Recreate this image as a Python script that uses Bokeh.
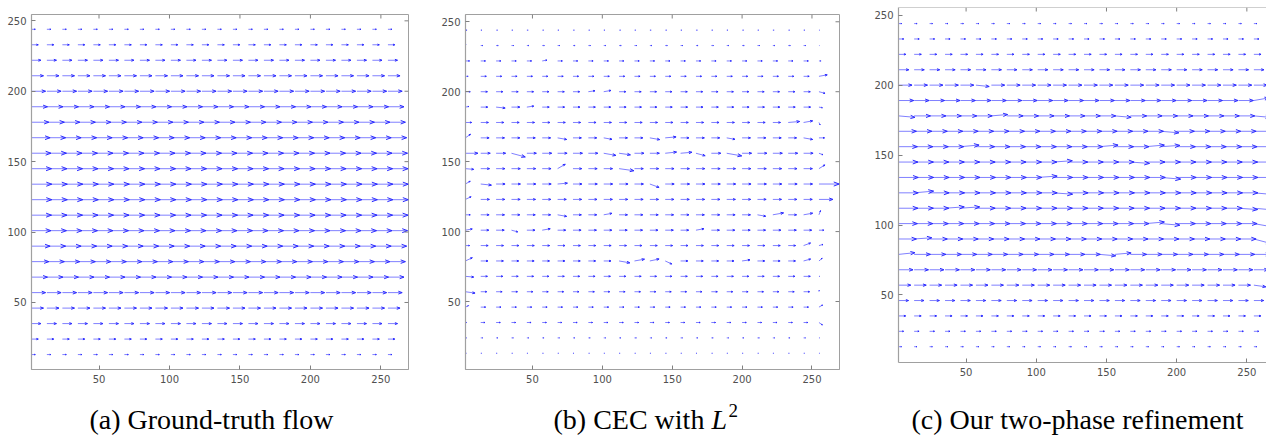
import math
from bokeh.plotting import figure
from bokeh.layouts import row, column, Spacer
from bokeh.models import LinearAxis, FixedTicker, Range1d, Span
from bokeh.core.properties import value
from bokeh.embed import file_html
from bokeh.resources import INLINE

# ---------------- data ----------------
grid_x = [2, 13, 24, 35, 46, 57, 68, 79, 90, 101, 112, 123, 134, 145, 156, 167,
          178, 189, 200, 211, 222, 233, 244, 255]
grid_y = [13, 24, 35, 46, 57, 68, 79, 90, 101, 112, 123, 134, 145, 156, 167,
          178, 189, 200, 211, 222, 233, 244]
tick_vals = [50, 100, 150, 200, 250]

a_row_len = [2.8, 4.9, 6.8, 8.6, 10.1, 11.4, 12.4, 13.3, 13.9, 14.3, 14.5,
             14.5, 14.3, 13.9, 13.3, 12.4, 11.4, 10.1, 8.6, 6.8, 4.9, 2.8]
b_row_len = [0.7, 1.3, 3.0, 3.5, 4.3, 4.8, 5.2, 5.3, 5.8, 6.0, 6.2,
             6.4, 6.3, 6.8, 6.0, 5.5, 5.0, 4.8, 4.0, 3.4, 1.5, 0.9]
c_row_len = [2.0, 3.5, 5.0, 7.0, 8.6, 10.2, 11.6, 12.6, 13.3, 13.7, 13.9,
             13.9, 13.7, 13.3, 12.6, 11.6, 10.7, 9.5, 7.2, 5.1, 3.6, 2.1]

b_right_len = [0.5, 0.5, 3.0, 3.0, 1.2, 0.6, 3.0, 3.0, 3.5, 3.2, 10.0,
               14.5, 5.0, 3.0, 4.0, 2.0, 2.5, 4.5, 6.0, 1.5, 0.3, 0.5]
b_right_ang = [0, 0, -35, 30, 80, 0, 40, 15, 0, 70, 0,
               0, 32, -20, 0, -65, -10, -15, 10, 0, 0, 0]
b_left_len = [0.6, 0.8, 1.0, 2.5, 7.0, 6.0, 5.5, 3.0, 5.0, 3.5, 4.5,
              4.0, 6.0, 9.0, 4.5, 4.5, 2.5, 3.5, 2.0, 3.0, 0.8, 1.2]
b_left_ang = [0, 0, 0, 25, -8, -5, 25, 0, 10, 0, 25,
              30, -5, 0, 35, 0, 10, 0, 0, 0, 60, 0]

b_dev = [(57, 222, 1.0, 10), (90, 200, 1.0, 8), (101, 200, 1.1, 10),
         (24, 189, 1.3, -6), (35, 189, 1.2, 0), (46, 189, 1.0, 8),
         (233, 178, 1.5, 5), (244, 178, 1.2, 10),
         (68, 167, 1.1, -10), (101, 167, 1.0, -10), (134, 167, 1.2, -10),
         (145, 167, 1.3, 5), (189, 167, 1.0, -10), (244, 167, 1.1, -10),
         (35, 156, 1.5, -15), (101, 156, 1.3, -10), (112, 156, 1.2, -8),
         (145, 156, 1.2, 6), (156, 156, 1.2, 5), (167, 156, 1.0, -15),
         (189, 156, 1.6, -10), (68, 145, 1.0, 30), (112, 145, 1.7, -8),
         (13, 134, 1.2, -6), (68, 134, 1.1, 5), (134, 134, 1.1, -20),
         (68, 112, 1.1, -10), (101, 112, 1.0, 10), (211, 112, 1.0, -10),
         (222, 112, 1.3, 10), (244, 112, 1.1, 10), (35, 101, 0.8, -15),
         (57, 101, 1.0, 10), (167, 101, 1.0, 10), (244, 90, 1.0, 20),
         (112, 79, 1.5, -10), (123, 79, 1.4, 10), (134, 79, 1.3, 12),
         (145, 79, 1.0, -25), (200, 79, 1.1, 8), (244, 79, 1.0, 15)]

c_right_ang = [0, 0, 0, 0, -8, 0, 0, -15, -10, -5, -5,
               0, 0, 0, 0, -5, 10, 0, 0, 0, 0, 0]
c_dev = [(57, 200, 1.0, -6), (2, 178, 1.0, -5), (68, 178, 1.0, 5),
         (156, 178, 1.0, -5), (189, 167, 1.0, -5), (46, 156, 1.0, 5),
         (145, 156, 1.0, 5), (178, 156, 1.0, 5), (189, 156, 1.0, 4),
         (112, 145, 1.0, 4), (167, 145, 1.0, -4), (101, 134, 1.0, 4),
         (189, 134, 1.0, -5), (13, 123, 1.0, 5), (112, 123, 1.0, -4),
         (35, 112, 1.0, 4), (46, 112, 1.0, 4), (244, 112, 1.0, -4),
         (178, 101, 1.0, 5), (189, 101, 1.0, -5), (13, 90, 1.0, 4),
         (2, 79, 1.0, 6), (145, 79, 1.0, -5), (156, 79, 1.0, 5)]

caption_a = "(a) Ground-truth flow"
caption_b = "(b) CEC with"
caption_b_sym = "L"
caption_b_exp = "2"
caption_c = "(c) Our two-phase refinement"

SHAFT = "#8080ff"
HEAD = "#2a2aff"
FRAME = "#a0a0a0"
PANEL_H = 400
STRIP_H = 35

def build_field(row_len, edits):
    out = []
    for i, y in enumerate(grid_y):
        for x in grid_x:
            L, ang = row_len[i], 0.0
            if (x, y) in edits:
                L, ang = edits[(x, y)]
            out.append((x, y, L, ang))
    return out


def draw_quiver(p, field):
    x0, y0, x1, y1 = [], [], [], []
    hx0, hy0, hx1, hy1 = [], [], [], []
    for x, y, L, ang in field:
        a = math.radians(ang)
        dx, dy = math.cos(a), math.sin(a)
        tx, ty = x + L * dx, y + L * dy
        x0.append(x); y0.append(y); x1.append(tx); y1.append(ty)
        h, w = 0.27 * L, 0.10 * L
        bx, by = tx - h * dx, ty - h * dy
        for s in (1, -1):
            hx0.append(bx - s * w * dy); hy0.append(by + s * w * dx)
            hx1.append(tx); hy1.append(ty)
    p.segment(x0=x0, y0=y0, x1=x1, y1=y1, line_color=SHAFT, line_width=1.0)
    p.segment(x0=hx0, y0=hy0, x1=hx1, y1=hy1, line_color=HEAD, line_width=1.0)


def add_axes(p, xr, yr, right=True):
    for loc in ("below", "left"):
        ax = LinearAxis(ticker=FixedTicker(ticks=tick_vals))
        ax.axis_line_color = FRAME
        ax.axis_line_width = 1.2
        ax.major_tick_line_color = "#808080"
        ax.major_tick_in = 4
        ax.major_tick_out = 0
        ax.minor_tick_line_color = None
        ax.minor_tick_out = 0
        ax.major_label_text_font = "DejaVu Sans"
        ax.major_label_text_font_size = "10px"
        ax.major_label_text_color = "#505050"
        ax.major_label_standoff = 5
        p.add_layout(ax, loc)
    p.ray(x=tick_vals, y=[yr[1]] * len(tick_vals), length=4, angle=-math.pi / 2,
          length_units="screen", line_color="#808080", line_width=1)
    if right:
        p.ray(x=[xr[1]] * len(tick_vals), y=tick_vals, length=4, angle=math.pi,
              length_units="screen", line_color="#808080", line_width=1)


def make_fig(width, height, xr, yr, bl, br, bt, bb, outline=True):
    p = figure(width=width, height=height, x_range=Range1d(*xr), y_range=Range1d(*yr),
               min_border_left=bl, min_border_right=br, min_border_top=bt,
               min_border_bottom=bb, x_axis_location=None, y_axis_location=None,
               toolbar_location=None, output_backend="svg")
    p.grid.visible = False
    p.outline_line_color = FRAME if outline else None
    p.background_fill_color = "white"
    p.border_fill_color = "white"
    return p

# ---------------- panel (a) ----------------
xa, ya = (2.1, 269.6), (2.4, 254.5)
fa = make_fig(436, PANEL_H, xa, ya, 31, 28, 13, 31)
draw_quiver(fa, build_field(a_row_len, {}))
add_axes(fa, xa, ya)

# ---------------- panel (b) ----------------
b_edits = {}
for i, y in enumerate(grid_y):
    b_edits[(grid_x[-1], y)] = (b_right_len[i], b_right_ang[i])
    b_edits[(grid_x[0], y)] = (b_left_len[i], b_left_ang[i])
for x, y, f, ang in b_dev:
    b_edits[(x, y)] = (b_row_len[grid_y.index(y)] * f, ang)
xb, yb = (2.1, 269.7), (1.4, 255.2)
fb = make_fig(432, PANEL_H, xb, yb, 29, 29, 14, 31)
draw_quiver(fb, build_field(b_row_len, b_edits))
add_axes(fb, xb, yb)

# ---------------- panel (c) ----------------
c_edits = {}
for i, y in enumerate(grid_y):
    if c_right_ang[i] != 0:
        c_edits[(grid_x[-1], y)] = (c_row_len[i], c_right_ang[i])
for x, y, f, ang in c_dev:
    c_edits[(x, y)] = (c_row_len[grid_y.index(y)] * f, ang)
xc, yc = (1.85, 264.0), (1.7, 255.5)
fc = make_fig(398, PANEL_H - 7, xc, yc, 30, 0, 7, 31, outline=False)
fc.add_layout(Span(location=yc[1], dimension="width", line_color=FRAME, line_width=1.2))
draw_quiver(fc, build_field(c_row_len, c_edits))
add_axes(fc, xc, yc, right=False)
col_c = column(fc, Spacer(width=398, height=7))

# ---------------- captions strip ----------------
cap = figure(width=1266, height=STRIP_H, x_range=Range1d(0, 1266), y_range=Range1d(0, STRIP_H),
             min_border_left=0, min_border_right=0, min_border_top=0, min_border_bottom=0,
             x_axis_location=None, y_axis_location=None, toolbar_location=None,
             output_backend="svg")
cap.grid.visible = False
cap.outline_line_color = None
cap.background_fill_color = "white"
cap.border_fill_color = "white"
serif = value("Liberation Serif")
cap.text(x=[211, 1077], y=[16, 16], text=[caption_a, caption_c], text_font=serif,
         text_font_size=value("28px"), text_align="center", text_baseline="alphabetic",
         text_color="black")
cap.text(x=[553], y=[16], text=[caption_b], text_font=serif, text_font_size=value("28px"),
         text_align="left", text_baseline="alphabetic", text_color="black")
cap.text(x=[711], y=[16], text=[caption_b_sym], text_font=serif, text_font_size=value("28px"),
         text_font_style="italic", text_align="left", text_baseline="alphabetic",
         text_color="black")
cap.text(x=[728], y=[25], text=[caption_b_exp], text_font=serif, text_font_size=value("19px"),
         text_align="left", text_baseline="alphabetic", text_color="black")

layout = column(row(fa, fb, col_c), cap)
open("out.html", "w").write(file_html(layout, INLINE))
